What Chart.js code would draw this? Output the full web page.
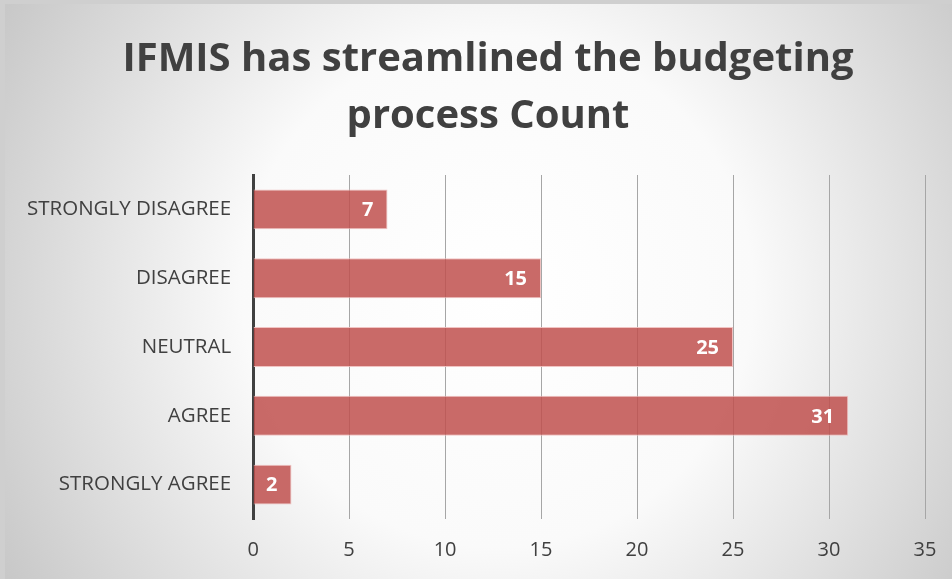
<!DOCTYPE html>
<html lang="en">
<head>
    <meta charset="UTF-8">
    <title>IFMIS has streamlined the budgeting process Count</title>
    <style>
        html, body {
            margin: 0;
            padding: 0;
            background: #cfcfcf;
        }
        .chart-box {
            position: absolute;
            left: 5px;
            top: 4px;
            width: 947px;
            height: 575px;
        }
    </style>
</head>
<body>
    <div class="chart-box"><canvas id="chart"></canvas></div>

    <script src="https://cdn.jsdelivr.net/npm/chart.js"></script>
    <script>
        const categories = ['STRONGLY DISAGREE', 'DISAGREE', 'NEUTRAL', 'AGREE', 'STRONGLY AGREE'];
        const counts = [7, 15, 25, 31, 2];
        const xTicks = [0, 5, 10, 15, 20, 25, 30, 35];
        const titleLines = ['IFMIS has streamlined the budgeting', 'process Count'];

        const TEXT_COLOR = '#404040';
        const FONT = 'Open Sans';

        // soft radial background behind the whole chart
        const backgroundPlugin = {
            id: 'radialBackground',
            beforeDraw(chart) {
                const ctx = chart.ctx;
                const w = chart.width, h = chart.height;
                const g = ctx.createRadialGradient(w * 0.52, h * 0.5, 0, w * 0.52, h * 0.5, w * 0.6);
                g.addColorStop(0, '#ffffff');
                g.addColorStop(0.45, '#fafafa');
                g.addColorStop(1, '#c8c8c8');
                ctx.save();
                ctx.fillStyle = g;
                ctx.fillRect(0, 0, w, h);
                ctx.restore();
            }
        };

        // two-line title, drawn in the space left by layout.padding.top
        const titlePlugin = {
            id: 'chartTitle',
            afterDraw(chart) {
                const ctx = chart.ctx;
                ctx.save();
                ctx.fillStyle = TEXT_COLOR;
                ctx.font = 'bold 40px "' + FONT + '"';
                ctx.textAlign = 'center';
                ctx.textBaseline = 'middle';
                titleLines.forEach((line, i) => {
                    ctx.fillText(line, 483, 56 + i * 57);
                });
                ctx.restore();
            }
        };

        // value labels inside the end of each bar
        const valueLabels = {
            id: 'valueLabels',
            afterDatasetsDraw(chart) {
                const ctx = chart.ctx;
                const meta = chart.getDatasetMeta(0);
                ctx.save();
                ctx.fillStyle = '#ffffff';
                ctx.font = 'bold 20px "' + FONT + '"';
                ctx.textAlign = 'right';
                ctx.textBaseline = 'middle';
                meta.data.forEach((bar, i) => {
                    ctx.fillText(String(counts[i]), bar.x - 14, bar.y + 1);
                });
                ctx.restore();
            }
        };

        new Chart(document.getElementById('chart'), {
            type: 'bar',
            data: {
                labels: categories,
                datasets: [{
                    label: 'Count',
                    data: counts,
                    backgroundColor: 'rgba(192, 80, 77, 0.85)',
                    borderColor: 'rgba(240, 190, 188, 0.9)',
                    borderWidth: 1,
                    barPercentage: 0.58,
                    categoryPercentage: 1
                }]
            },
            options: {
                indexAxis: 'y',
                responsive: true,
                maintainAspectRatio: false,
                animation: false,
                layout: {
                    padding: { left: 0, right: 27, top: 171, bottom: 0 }
                },
                plugins: {
                    legend: { display: false },
                    tooltip: { enabled: false },
                    title: { display: false }
                },
                scales: {
                    x: {
                        min: 0,
                        max: 35,
                        afterBuildTicks(axis) {
                            axis.ticks = xTicks.map(v => ({ value: v }));
                        },
                        afterFit(axis) {
                            // fixed band under the plot for the tick labels
                            axis.height = 60;
                            axis.paddingLeft = 0;
                            axis.paddingRight = 0;
                        },
                        grid: {
                            color: '#a6a6a6',
                            lineWidth: 1,
                            drawTicks: false
                        },
                        border: { display: false },
                        ticks: {
                            color: TEXT_COLOR,
                            font: { family: FONT, size: 20 },
                            padding: 19
                        }
                    },
                    y: {
                        grid: { display: false, drawTicks: false },
                        border: { display: true, color: '#404040', width: 3 },
                        ticks: {
                            color: TEXT_COLOR,
                            font: { family: FONT, size: 20.5 },
                            padding: 22
                        }
                    }
                }
            },
            plugins: [backgroundPlugin, valueLabels, titlePlugin]
        });
    </script>
</body>
</html>
